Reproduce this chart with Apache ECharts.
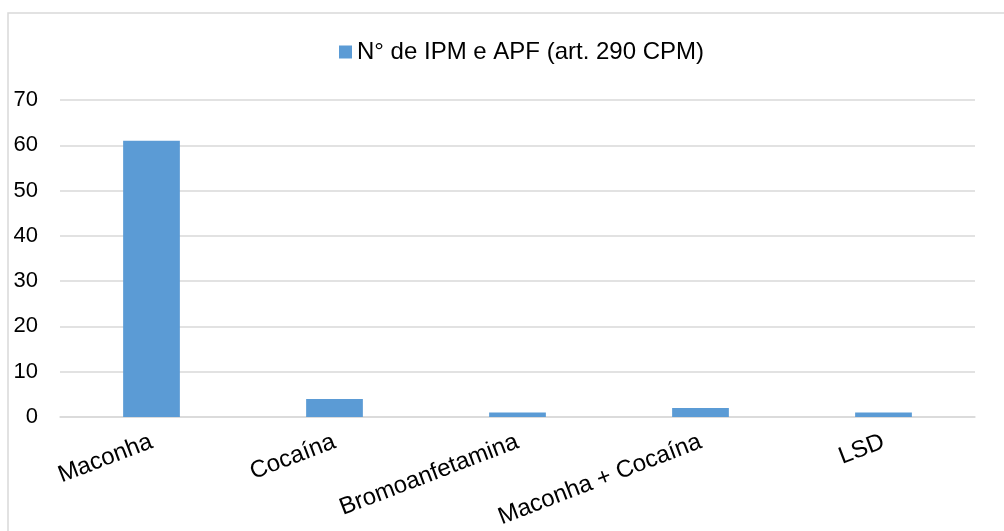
<!DOCTYPE html>
<html><head><meta charset="utf-8">
<script src="https://cdn.jsdelivr.net/npm/echarts@6/dist/echarts.min.js"></script>
<style>html,body{margin:0;padding:0;background:#fff}#c{width:1004px;height:531px}</style>
</head><body><div id="c"></div>
<script>
const categories = ["Maconha", "Cocaína", "Bromoanfetamina", "Maconha + Cocaína", "LSD"];
const seriesName = "N° de IPM e APF (art. 290 CPM)";
const values = [61, 4, 1, 2, 1];

const chart = echarts.init(document.getElementById('c'), null, {renderer: 'canvas'});
chart.setOption({
  animation: false,
  backgroundColor: '#fff',
  textStyle: {fontFamily: 'Liberation Sans'},
  graphic: [{type: 'rect', shape: {x: 8, y: 13, width: 1010, height: 530}, style: {fill: 'none', stroke: '#d9d9d9', lineWidth: 1.5}, silent: true}],
  legend: {
    top: 35, left: 334,
    itemWidth: 13, itemHeight: 13, itemGap: 4,
    icon: 'rect',
    textStyle: {fontSize: 24, color: '#000', fontFamily: 'Liberation Sans'},
    data: [seriesName]
  },
  grid: {left: 60, right: 29, top: 100, bottom: 114, containLabel: false},
  xAxis: {
    type: 'category', data: categories,
    axisLine: {lineStyle: {color: '#d9d9d9', width: 1.5}},
    axisTick: {show: false},
    axisLabel: {rotate: 21, fontSize: 24, color: '#000', margin: 24, interval: 0}
  },
  yAxis: {
    type: 'value', min: 0, max: 70, interval: 10,
    axisLine: {show: false}, axisTick: {show: false},
    splitLine: {lineStyle: {color: '#d9d9d9', width: 1.5}},
    axisLabel: {fontSize: 22, color: '#000', margin: 22}
  },
  series: [{
    name: seriesName, type: 'bar', data: values,
    barWidth: '31%', itemStyle: {color: '#5b9bd5'}
  }]
});
</script></body></html>
